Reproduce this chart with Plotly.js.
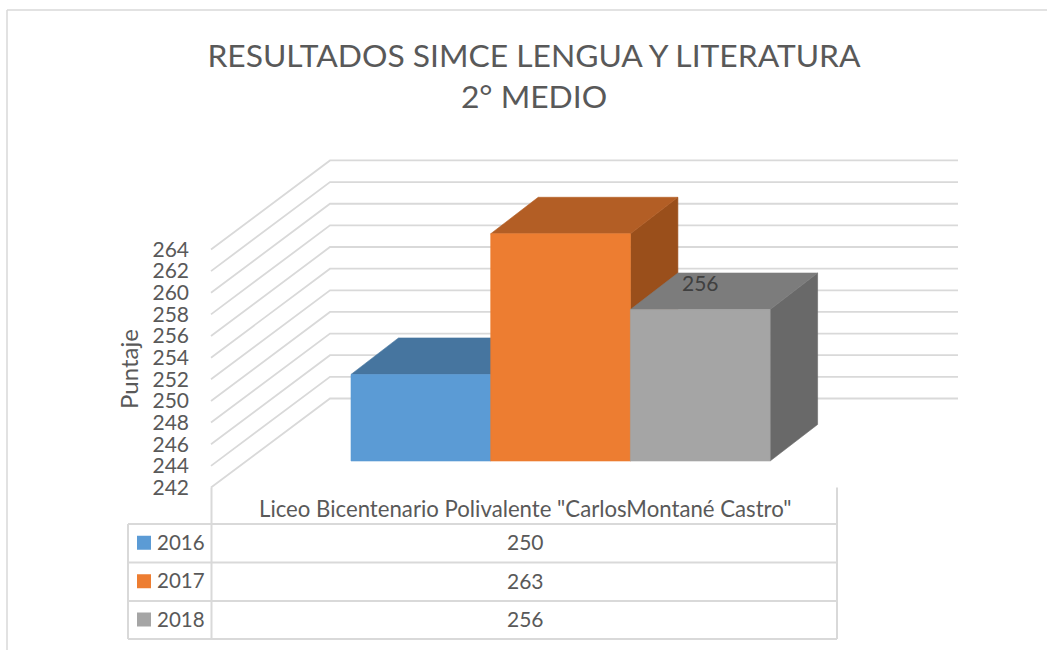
<!DOCTYPE html>
<html><head><meta charset="utf-8">
<script src="https://cdn.plot.ly/plotly-3.0.1.min.js"></script>
<style>html,body{margin:0;padding:0;background:#fff}#c{width:1047px;height:650px}</style></head>
<body><div id="c"></div>
<script>
const series = ['2016','2017','2018'];
const values = [250,263,256];
const category = 'Liceo Bicentenario Polivalente "CarlosMontané Castro"';
const tickValues = [242,244,246,248,250,252,254,256,258,260,262,264];
const frontColors = ['#5B9BD5','#ED7D31','#A5A5A5'];
const topColors = ['#46759F','#B35E25','#7C7C7C'];
const sideColors = ['#3C6489','#9A4F1B','#696969'];
const titleText = 'RESULTADOS SIMCE LENGUA Y LITERATURA<br>2° MEDIO';

const FONT = 'Lato, Carlito, sans-serif';
const W = 1047, H = 650;
const BASE = 242, PXU = 10.82, FLOOR_PX = 487.5;
const yRange = [BASE - (H - FLOOR_PX) / PXU, BASE + FLOOR_PX / PXU];
const py = p => BASE + (FLOOR_PX - p) / PXU;
const pxU = d => d / PXU;

const GRID = '#D9D9D9';
const traces = [];
const poly = (xs, ys, color) => traces.push({type:'scatter',mode:'lines',x:xs,y:ys,fill:'toself',
  fillcolor:color,line:{color:color,width:0.6},hoverinfo:'skip',showlegend:false});
const seg = (xs, ys, width) => traces.push({type:'scatter',mode:'lines',x:xs,y:ys,
  line:{color:GRID,width:width||1.8},hoverinfo:'skip',showlegend:false});

const WALL_DX = 119, WALL_DY = 89, FRONT_X = 211, BACK_END = 958;
tickValues.forEach(v => seg([FRONT_X, FRONT_X + WALL_DX, BACK_END], [v, v + pxU(WALL_DY), v + pxU(WALL_DY)]));

const BAR_X0 = 351, BAR_W = 139.7, BAR_DX = 47.5, BAR_DY = 36.5, BAR_FLOOR = py(461);
values.forEach((v, i) => {
  const x0 = BAR_X0 + i * BAR_W, x1 = x0 + BAR_W;
  const top = BAR_FLOOR + (v - BASE);
  const d = pxU(BAR_DY);
  poly([x1, x1 + BAR_DX, x1 + BAR_DX, x1, x1], [BAR_FLOOR, BAR_FLOOR + d, top + d, top, BAR_FLOOR], sideColors[i]);
  poly([x0, x0 + BAR_DX, x1 + BAR_DX, x1, x0], [top, top + d, top + d, top, top], topColors[i]);
  poly([x0, x1, x1, x0, x0], [BAR_FLOOR, BAR_FLOOR, top, top, BAR_FLOOR], frontColors[i]);
});

const T_L = 128, T_M = 211.5, T_R = 837;
const ROWS = [524, 562.5, 601, 639];
ROWS.forEach(r => seg([T_L, T_R], [py(r), py(r)], 2));
seg([T_L, T_L], [py(ROWS[0]), py(ROWS[3])], 2);
seg([T_M, T_M], [py(487.5), py(ROWS[3])], 2);
seg([T_R, T_R], [py(487.5), py(ROWS[3])], 2);

series.forEach((s, i) => traces.push({type:'scatter',mode:'markers',x:[144],y:[py((ROWS[i]+ROWS[i+1])/2 - 0.5)],
  marker:{symbol:'square',size:14,color:frontColors[i],line:{width:0}},hoverinfo:'skip',showlegend:false}));

const ann = [];
const note = (text, x, y, size, anchor, color, angle) => ann.push({text, x, y, xref:'x', yref:'y', showarrow:false,
  xanchor:anchor||'center', yanchor:'middle', textangle:angle||0, font:{family:FONT,size,color:color||'#595959'}});
note(category, 525, py(508), 22.2);
series.forEach((s, i) => {
  const mid = (ROWS[i] + ROWS[i+1]) / 2;
  note(s, 155, py(mid - 1.5), 20.5, 'left');
  note(String(values[i]), 525, py(mid - 1.5), 21);
});
note(String(values[2]), 700, py(282.5), 21, 'center', '#404040');
note('Puntaje', 128, py(369), 24, 'center', '#595959', -90);

const layout = {
  width: W, height: H, margin:{l:0,r:0,t:0,b:0,pad:0},
  paper_bgcolor:'#fff', plot_bgcolor:'rgba(0,0,0,0)', showlegend:false,
  title:{text:titleText, x:534/W, xanchor:'center', y:1-67/H, yanchor:'top',
    font:{family:FONT,size:31.8,color:'#595959'}},
  xaxis:{range:[0,W],visible:false,fixedrange:true},
  yaxis:{range:yRange,anchor:'free',position:189/W,side:'left',tickmode:'array',tickvals:tickValues,
    ticks:'',showline:false,showgrid:false,zeroline:false,fixedrange:true,ticklabelshift:3.5,
    tickfont:{family:FONT,size:21,color:'#595959'}},
  shapes:[
    {type:'line',xref:'paper',yref:'paper',x0:7/W,x1:7/W,y0:0,y1:1-10/H,line:{color:GRID,width:1.5}},
    {type:'line',xref:'paper',yref:'paper',x0:7/W,x1:1,y0:1-10/H,y1:1-10/H,line:{color:GRID,width:1.5}}
  ],
  annotations: ann
};
Plotly.newPlot('c', traces, layout, {displayModeBar:false, staticPlot:true});
</script></body></html>
